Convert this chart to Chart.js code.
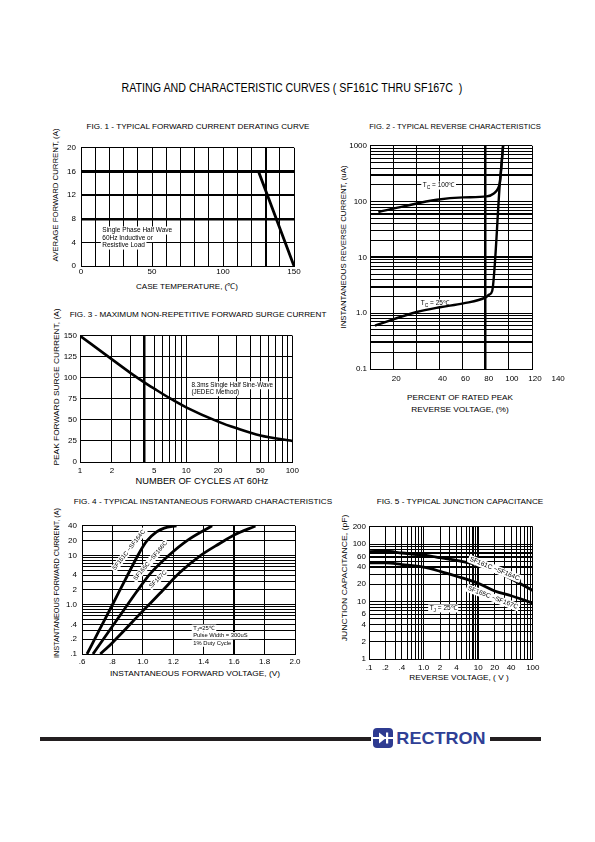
<!DOCTYPE html>
<html>
<head>
<meta charset="utf-8">
<title>SF161C thru SF167C curves</title>
<script src="https://cdn.jsdelivr.net/npm/chart.js@4.4.1/dist/chart.umd.min.js"></script>
<style>
  html, body { margin: 0; padding: 0; background: #fff; }
  #page { position: relative; width: 595px; height: 842px; overflow: hidden;
          font-family: "Liberation Sans", Arial, sans-serif; color: #000; }
  .txt { position: absolute; white-space: nowrap; line-height: 1; transform-origin: center center; }
  .cv { position: absolute; }
  .rule { position: absolute; height: 3.5px; background: #231f20; }
</style>
</head>
<body>
<div id="page">
  <div class="rule" style="left:40px;top:737px;width:331px"></div>
  <svg style="position:absolute;left:373px;top:728px" width="20" height="20" viewBox="0 0 20 20">
    <rect x="0" y="0" width="20" height="20" rx="4" fill="#2e3b91"/>
    <rect x="0" y="9" width="20" height="2" fill="#fff"/>
    <polygon points="6,4.5 6,15.5 13,10" fill="#fff"/>
    <rect x="13" y="4.5" width="2.2" height="11" fill="#fff"/>
  </svg>
  <div class="rule" style="left:490px;top:737px;width:51px"></div>
</div>
<script>
const FONT = '"Liberation Sans", Arial, sans-serif';

// ---------- FIG. 1 derating curve ----------
const f1Temp = [0, 125, 150];
const f1Current = [16, 16, 0];
const f1XTicks = [0, 10, 20, 30, 40, 50, 60, 70, 80, 90, 100, 110, 120, 130, 140, 150];
const f1XLabelAt = [0, 50, 100, 150];
const f1YTicks = [0, 4, 8, 12, 16, 20];

// ---------- FIG. 2 reverse characteristics ----------
// x axis as printed: grid every 20, the first label reads "20" at the 0 line
const f2Pct25 = [-15.7, 20.3, 40.4, 60.6, 79.9, 83, 85.6, 92.3, 95];
const f2Cur25 = [0.6, 1.05, 1.28, 1.5, 1.92, 2.15, 2.5, 225, 1000];
const f2Pct100 = [-12.8, 8.8, 37.7, 60.7, 80.9, 87, 90.5, 92.3, 95];
const f2Cur100 = [65, 82, 108, 119, 124, 140, 170, 225, 1000];
const f2XTicks = [-20, 0, 20, 40, 60, 80, 100, 120];
const f2XLabelAt = [0, 40, 60, 80, 100, 120];
const f2XLabelText = ['20', '40', '60', '80', '100', '120'];
const f2YLabelAt = [0.1, 1, 10, 100, 1000];
const f2YLabelText = ['0.1', '1.0', '10', '100', '1000'];

// ---------- FIG. 3 surge current ----------
const f3Cycles = [1, 2, 3, 4, 5, 7, 10, 20, 30, 50, 100];
const f3Amps = [150, 122, 105.7, 95, 87.2, 75.8, 65, 48, 40, 31.5, 25];
const f3XLabelAt = [1, 2, 5, 10, 20, 50, 100];
const f3YTicks = [0, 25, 50, 75, 100, 125, 150];

// ---------- FIG. 4 forward characteristics ----------
const f4VoltA = [0.633, 0.716, 0.8, 0.883, 0.967, 1.0, 1.025, 1.09, 1.14, 1.221];
const f4AmpA = [0.1, 0.316, 1, 3.16, 10, 15, 19.5, 30, 36, 40];
const f4VoltB = [0.672, 0.8, 0.849, 0.959, 1.046, 1.17, 1.3, 1.455];
const f4AmpB = [0.1, 0.365, 0.6, 1.83, 4.18, 10, 21, 40];
const f4VoltC = [0.72, 0.8, 1.0, 1.111, 1.243, 1.374, 1.505, 1.6, 1.74];
const f4AmpC = [0.1, 0.17, 0.75, 1.69, 4.5, 9.7, 17.5, 26, 39.5];
const f4XTicks = [0.6, 0.8, 1.0, 1.2, 1.4, 1.6, 1.8, 2.0];
const f4XLabelText = ['.6', '.8', '1.0', '1.2', '1.4', '1.6', '1.8', '2.0'];
const f4YLabelAt = [0.1, 0.2, 0.4, 1, 2, 4, 10, 20, 40];
const f4YLabelText = ['.1', '.2', '.4', '1.0', '2', '4', '10', '20', '40'];

// ---------- FIG. 5 junction capacitance ----------
const f5Volt = [0.1, 0.2, 0.4, 1, 2, 4, 10, 20, 40, 100];
const f5CapHi = [74, 75, 70, 64, 58, 52, 43, 34, 25, 15.5];
const f5CapLo = [47, 47, 44, 39.6, 33.6, 27.6, 20.8, 15.3, 12.6, 9.4];
const f5XLabelAt = [0.1, 0.2, 0.4, 1, 2, 4, 10, 20, 40, 100];
const f5XLabelText = ['.1', '.2', '.4', '1.0', '2', '4', '10', '20', '40', '100'];
const f5YLabelAt = [1, 2, 4, 6, 10, 20, 40, 60, 100, 200];

// text placed on the page: text, centre x, centre y, size, width, rotation, extra css
const pageTexts = [
  ['RATING AND CHARACTERISTIC CURVES ( SF161C THRU SF167C\u00a0 )', 292.2, 88.3, 12, 341, 0],
  ['FIG. 1 - TYPICAL FORWARD CURRENT DERATING CURVE', 197.7, 126.7, 7.5, 223, 0],
  ['FIG. 2 - TYPICAL REVERSE CHARACTERISTICS', 454.8, 126, 7, 171.7, 0],
  ['FIG. 3 - MAXIMUM NON-REPETITIVE FORWARD SURGE CURRENT', 198.3, 315, 8, 256.7, 0],
  ['FIG. 4 - TYPICAL INSTANTANEOUS FORWARD CHARACTERISTICS', 202.5, 501.7, 7.7, 258.4, 0],
  ['FIG. 5 - TYPICAL JUNCTION CAPACITANCE', 460, 501.7, 7.3, 166.6, 0],
  ['AVERAGE FORWARD CURRENT, (A)', 56, 195, 7.5, 133, -90],
  ['CASE TEMPERATURE, (\u2103)', 187.2, 286.7, 8, 102, 0],
  ['INSTANTANEOUS REVERSE CURRENT, (uA)', 344, 246.7, 7.5, 163, -90],
  ['PERCENT OF RATED PEAK', 459.7, 398.3, 7.5, 106, 0],
  ['REVERSE VOLTAGE, (%)', 459.7, 410, 7.5, 97.3, 0],
  ['PEAK FORWARD SURGE CURRENT, (A)', 56.7, 386.5, 8, 157, -90],
  ['NUMBER OF CYCLES AT 60Hz', 201.7, 481, 8.3, 133, 0],
  ['INSTANTANEOUS FORWARD CURRENT, (A)', 56.7, 583.3, 7.2, 150, -90],
  ['INSTANTANEOUS FORWARD VOLTAGE, (V)', 195, 674, 8, 170, 0],
  ['JUNCTION CAPACITANCE, (pF)', 345, 578.3, 7.8, 126.7, -90],
  ['REVERSE VOLTAGE, ( V )', 458.7, 678.3, 7.3, 99.3, 0],
  ['RECTRON', 441.3, 738, 17, 89.3, 0, 'font-weight:bold;color:#2f3f96']
];

const page = document.getElementById('page');
pageTexts.forEach(t => {
  const el = document.createElement('div');
  el.className = 'txt';
  el.textContent = t[0];
  el.style.cssText += ';left:' + t[1] + 'px;top:' + t[2] + 'px;font-size:' + t[3] + 'px;' + (t[6] || '');
  page.appendChild(el);
  const k = t[4] / el.getBoundingClientRect().width;
  el.style.transform = 'translate(-50%,-50%) rotate(' + t[5] + 'deg) scaleX(' + k.toFixed(3) + ')';
});

Chart.defaults.font.family = FONT;
Chart.defaults.color = '#000';
Chart.defaults.animation = false;

function logGrid(lo, hi) {
  const out = [];
  for (let p = Math.floor(Math.log10(lo)); p <= Math.ceil(Math.log10(hi)); p++) {
    for (let m = 1; m < 10; m++) {
      const v = Number((m * Math.pow(10, p)).toPrecision(3));
      if (v >= lo && v <= hi) out.push(v);
    }
  }
  return out;
}

function series(xs, ys) { return xs.map((x, i) => ({ x: x, y: ys[i] })); }

function curve(xs, ys, w, smooth) {
  return { data: series(xs, ys), borderColor: '#000', borderWidth: w, pointRadius: 0, fill: false,
           tension: 0, cubicInterpolationMode: smooth ? 'monotone' : 'default' };
}

// small rich text: "_X" makes X a subscript
function parts(line) {
  const out = []; let buf = '';
  for (let i = 0; i < line.length; i++) {
    if (line[i] === '_' && i + 1 < line.length) {
      if (buf) out.push({ t: buf, sub: false });
      buf = '';
      out.push({ t: line[i + 1], sub: true });
      i++;
    } else buf += line[i];
  }
  if (buf) out.push({ t: buf, sub: false });
  return out;
}
function measure(ctx, line, size) {
  let w = 0;
  parts(line).forEach(p => { ctx.font = (p.sub ? size * 0.75 : size) + 'px ' + FONT; w += ctx.measureText(p.t).width; });
  return w;
}
function drawRich(ctx, line, x, y, size) {
  ctx.fillStyle = '#000'; ctx.textBaseline = 'middle'; ctx.textAlign = 'left';
  parts(line).forEach(p => {
    const s = p.sub ? size * 0.75 : size;
    ctx.font = s + 'px ' + FONT;
    ctx.fillText(p.t, x, y + (p.sub ? size * 0.3 : 0));
    x += ctx.measureText(p.t).width;
  });
}

// notes written inside the plots, anchored in data units
function drawNotes(chart, items) {
  const ctx = chart.ctx, xs = chart.scales.x, ys = chart.scales.y;
  items.forEach(n => {
    const size = n.size || 6.5, lh = n.lh || size * 1.15;
    ctx.save();
    ctx.translate(xs.getPixelForValue(n.x), ys.getPixelForValue(n.y));
    ctx.rotate((n.angle || 0) * Math.PI / 180);
    n.lines.forEach((line, i) => {
      const w = measure(ctx, line, size);
      const x0 = n.align === 'center' ? -w / 2 : 0;
      const y = i * lh;
      ctx.fillStyle = '#fff';
      ctx.fillRect(x0 - 1.5, y - size * 0.62, w + 3, size * 1.24);
      drawRich(ctx, line, x0, y, size);
    });
    ctx.restore();
  });
}
const notesPlugin = {
  id: 'notes',
  beforeDatasetsDraw(chart, args, opts) { drawNotes(chart, (opts.items || []).filter(n => !n.over)); },
  afterDatasetsDraw(chart, args, opts) { drawNotes(chart, (opts.items || []).filter(n => n.over)); }
};

// tick labels printed past the end of an axis
const extraTickPlugin = {
  id: 'extraTicks',
  afterDraw(chart, args, opts) {
    const ctx = chart.ctx, xs = chart.scales.x;
    (opts.items || []).forEach(t => {
      ctx.save();
      ctx.font = '8px ' + FONT; ctx.fillStyle = '#000';
      ctx.textAlign = 'center'; ctx.textBaseline = 'middle';
      ctx.fillText(t.text, xs.getPixelForValue(t.value) + (t.offset || 0), xs.top + t.pad + 4.8);
      ctx.restore();
    });
  }
};

function axis(a, dir, size) {
  return {
    type: a.type, position: dir === 'x' ? 'bottom' : 'left',
    min: a.min, max: a.max,
    afterBuildTicks: s => { s.ticks = a.ticks.map(v => ({ value: v })); },
    afterFit: s => { if (dir === 'x') s.height = size; else s.width = size; },
    ticks: {
      autoSkip: false, maxRotation: 0, minRotation: 0, padding: a.pad, labelOffset: a.offset || 0,
      font: { size: 8 }, color: '#000',
      callback: v => {
        const k = a.labelAt.indexOf(v);
        return k < 0 ? '' : (a.labelText ? a.labelText[k] : String(v));
      }
    },
    grid: {
      color: '#000', drawTicks: false,
      lineWidth: c => {
        const k = (a.thick || []).indexOf(c.tick ? c.tick.value : null);
        if (k < 0) return 1;
        return Array.isArray(a.thickW) ? a.thickW[k] : (a.thickW || 2);
      }
    },
    border: { display: true, color: '#000', width: 1 }
  };
}

function buildChart(spec) {
  const [L, T, R, B] = spec.plot;
  const left = L - spec.yW, top = T - spec.padTop;
  const width = R + spec.padRight - left, height = B + spec.xH - top;
  const c = document.createElement('canvas');
  c.className = 'cv';
  c.width = width; c.height = height;
  c.style.left = left + 'px'; c.style.top = top + 'px';
  c.style.width = width + 'px'; c.style.height = height + 'px';
  page.appendChild(c);
  return new Chart(c, {
    type: 'line',
    data: { datasets: spec.datasets },
    options: {
      responsive: false,
      animation: false,
      layout: { padding: { top: spec.padTop, right: spec.padRight, left: 0, bottom: 0 } },
      scales: { x: axis(spec.x, 'x', spec.xH), y: axis(spec.y, 'y', spec.yW) },
      plugins: {
        legend: { display: false },
        tooltip: { enabled: false },
        notes: { items: spec.notes || [] },
        extraTicks: { items: spec.extra || [] }
      }
    },
    plugins: [notesPlugin, extraTickPlugin]
  });
}

// FIG. 1
buildChart({
  plot: [81, 144, 294, 266], yW: 26, padTop: 6, padRight: 10, xH: 16,
  x: { type: 'linear', min: 0, max: 150, ticks: f1XTicks, labelAt: f1XLabelAt, pad: 1, thick: [130], thickW: 2 },
  y: { type: 'linear', min: 0, max: 20, ticks: f1YTicks, labelAt: f1YTicks, pad: 5, thick: [8, 12, 16], thickW: [2.4, 2, 3] },
  datasets: [curve(f1Temp, f1Current, 2.8, false)],
  notes: [{ x: 15, y: 6, lines: ['Single Phase Half Wave', '60Hz Inductive or', 'Resistive Load'], size: 6.5, lh: 7.5 }]
});

// FIG. 2
buildChart({
  plot: [370, 144, 532, 369], yW: 32, padTop: 6, padRight: 40, xH: 18,
  x: { type: 'linear', min: -20, max: 120, ticks: f2XTicks, labelAt: f2XLabelAt, labelText: f2XLabelText,
       pad: 4.5, offset: 3, thick: [80], thickW: 2.5 },
  y: { type: 'logarithmic', min: 0.1, max: 1000, ticks: logGrid(0.1, 1000), labelAt: f2YLabelAt,
       labelText: f2YLabelText, pad: 3, thick: [0.3, 3, 10, 60, 300], thickW: 2 },
  datasets: [curve(f2Pct25, f2Cur25, 2.4, true), curve(f2Pct100, f2Cur100, 2.4, true)],
  notes: [
    { x: 25.6, y: 194, lines: ['T_C = 100\u2103'], size: 6.5 },
    { x: 23.9, y: 1.5, lines: ['T_C = 25\u2103'], size: 6.5 }
  ],
  extra: [{ value: 140, text: '140', pad: 4.5, offset: 3 }]
});

// FIG. 3
buildChart({
  plot: [80, 334, 293, 462], yW: 26, padTop: 6, padRight: 10, xH: 16,
  x: { type: 'logarithmic', min: 1, max: 100, ticks: logGrid(1, 100), labelAt: f3XLabelAt, pad: 4, thick: [4], thickW: 2.5 },
  y: { type: 'linear', min: 0, max: 150, ticks: f3YTicks, labelAt: f3YTicks, pad: 3 },
  datasets: [curve(f3Cycles, f3Amps, 2.6, true)],
  notes: [{ x: 11.2, y: 91.1, lines: ['8.3ms Single Half Sine-Wave', '(JEDEC Method)'], size: 6.3, lh: 7 }]
});

// FIG. 4
buildChart({
  plot: [82, 522, 295, 654], yW: 28, padTop: 6, padRight: 10, xH: 16,
  x: { type: 'linear', min: 0.6, max: 2.0, ticks: f4XTicks, labelAt: f4XTicks, labelText: f4XLabelText, pad: 3, thick: [1.6], thickW: 2 },
  y: { type: 'logarithmic', min: 0.1, max: 40, ticks: logGrid(0.1, 40), labelAt: f4YLabelAt, labelText: f4YLabelText, pad: 5 },
  datasets: [curve(f4VoltA, f4AmpA, 2.8, true), curve(f4VoltB, f4AmpB, 2.8, true), curve(f4VoltC, f4AmpC, 2.8, true)],
  notes: [
    { x: 0.908, y: 12.9, lines: ['SF161C ~SF164C'], size: 6, angle: -52, align: 'center' },
    { x: 1.05, y: 7.8, lines: ['SF165C ~SF166C'], size: 6, angle: -50, align: 'center' },
    { x: 1.1, y: 3.3, lines: ['SF167C'], size: 6, angle: -45, align: 'center' },
    { x: 1.331, y: 0.334, lines: ['T_J=25\u2103', 'Pulse Width = 300uS', '1% Duty Cycle'], size: 5.8, lh: 7.5 }
  ]
});

// FIG. 5
buildChart({
  plot: [369, 525, 533, 659], yW: 28, padTop: 6, padRight: 10, xH: 16,
  x: { type: 'logarithmic', min: 0.1, max: 100, ticks: logGrid(0.1, 100), labelAt: f5XLabelAt, labelText: f5XLabelText,
       pad: 3.5, thick: [8, 10], thickW: 2 },
  y: { type: 'logarithmic', min: 1, max: 200, ticks: logGrid(1, 200), labelAt: f5YLabelAt, pad: 3, thick: [40, 60, 70], thickW: 2 },
  datasets: [curve(f5Volt, f5CapHi, 2.8, true), curve(f5Volt, f5CapLo, 2.8, true)],
  notes: [
    { x: 19.9, y: 37.2, lines: ['SF161C ~SF164C'], size: 6.5, angle: 22, align: 'center', over: true },
    { x: 18.5, y: 11.7, lines: ['SF165C ~SF167C'], size: 6.5, angle: 21, align: 'center' },
    { x: 1.29, y: 7.6, lines: ['T_J = 25\u2103'], size: 6.5 }
  ]
});
</script>
</body>
</html>
